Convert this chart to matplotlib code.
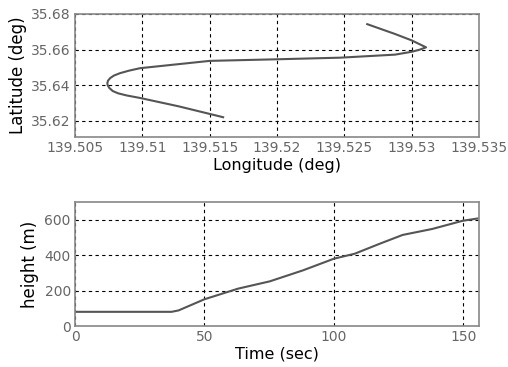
import matplotlib
matplotlib.use("Agg")
import matplotlib.pyplot as plt

# Track (longitude / latitude in deg)
lon = [139.5160, 139.5127, 139.50983, 139.50884, 139.50820, 139.50780,
       139.50755, 139.50743, 139.50740, 139.50745, 139.50762, 139.50790,
       139.50834, 139.50900, 139.50983, 139.5150, 139.5200, 139.5247,
       139.52876, 139.5300, 139.5306, 139.53107, 139.5300, 139.52876, 139.5267]
lat = [35.6221, 35.6282, 35.6329, 35.6343, 35.6355, 35.6368,
       35.6385, 35.6400, 35.6412, 35.6426, 35.6441, 35.6455,
       35.6468, 35.6482, 35.6496, 35.6537, 35.6546, 35.6555,
       35.6572, 35.6588, 35.6600, 35.6613, 35.6652, 35.6688, 35.6743]

# Height over time
t = [0, 37.3, 40, 50, 63, 75.2, 88, 100, 108, 117.6, 126.5, 138, 149.7, 155.5]
h = [80, 80, 88, 151, 211, 252, 314, 380, 408, 464, 514, 548, 594, 607]

lon_ticks = [139.505, 139.51, 139.515, 139.52, 139.525, 139.53, 139.535]
lon_labels = ["139.505", "139.51", "139.515", "139.52", "139.525", "139.53", "139.535"]
lat_ticks = [35.62, 35.64, 35.66, 35.68]
t_ticks = [0, 50, 100, 150]
h_ticks = [0, 200, 400, 600]

line_col = "#555555"
tick_col = "#666666"


def style(ax):
    ax.grid(True, color="black", linestyle=(0, (3, 3)), linewidth=0.8)
    for s in ax.spines.values():
        s.set_color("#888888")
        s.set_linewidth(1.2)
    ax.tick_params(direction="in", length=0, labelsize=10, colors=tick_col, pad=3)


fig = plt.figure(figsize=(5.08, 3.67), dpi=100)

ax1 = fig.add_axes([75 / 508, 1 - 137 / 367, 404 / 508, 123 / 367])
ax1.plot(lon, lat, color=line_col, linewidth=1.5)
ax1.set_xlim(139.505, 139.535)
ax1.set_ylim(35.611, 35.68)
ax1.set_xticks(lon_ticks)
ax1.set_xticklabels(lon_labels)
ax1.set_yticks(lat_ticks)
ax1.set_xlabel("Longitude (deg)", fontsize=11.5, labelpad=2)
ax1.set_ylabel("Latitude (deg)", fontsize=12, labelpad=3)
style(ax1)

ax2 = fig.add_axes([75 / 508, 1 - 326 / 367, 404 / 508, 124 / 367])
ax2.plot(t, h, color=line_col, linewidth=1.5)
ax2.set_xlim(0, 156)
ax2.set_ylim(0, 700)
ax2.set_xticks(t_ticks)
ax2.set_yticks(h_ticks)
ax2.set_xlabel("Time (sec)", fontsize=11.5, labelpad=2)
ax2.set_ylabel("height (m)", fontsize=12, labelpad=4)
style(ax2)

fig.savefig("out.png", dpi=100)
